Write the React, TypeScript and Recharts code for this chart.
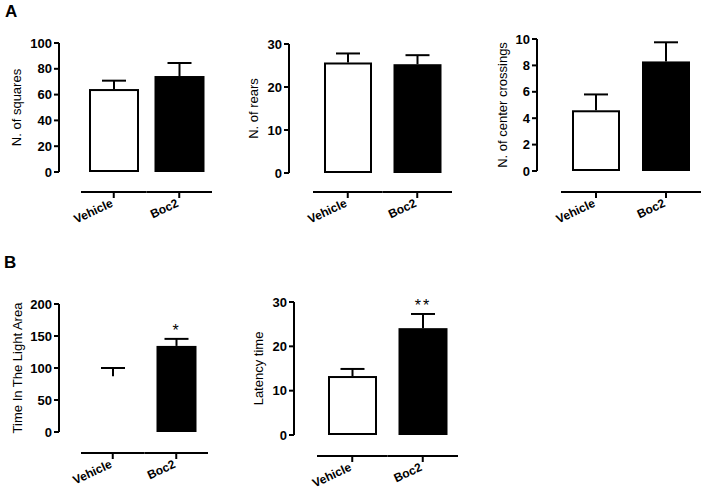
import React from "react";
import { BarChart, Bar, XAxis, YAxis, Cell } from "recharts";

const categories = ["Vehicle", "Boc2"];

const squaresMean = [64.3, 74.4];
const squaresSem = [6.5, 10.1];
const squaresTicks = [0, 20, 40, 60, 80, 100];

const rearsMean = [25.7, 25.3];
const rearsSem = [2.1, 2.1];
const rearsTicks = [0, 10, 20, 30];

const crossingsMean = [4.6, 8.3];
const crossingsSem = [1.2, 1.45];
const crossingsTicks = [0, 2, 4, 6, 8, 10];

const lightMean = [87, 134.5];
const lightSem = [13, 11];
const lightStars = ["", "*"];
const lightTicks = [0, 50, 100, 150, 200];

const latencyMean = [13.3, 24.1];
const latencySem = [1.6, 3.2];
const latencyStars = ["", "**"];
const latencyTicks = [0, 10, 20, 30];

const FONT = "'Liberation Sans', Arial, Helvetica, sans-serif";
const YW = 50; // y axis width
const MT = 20; // top margin
const XH = 60; // x axis height

type PanelProps = {
  mean: number[];
  sem: number[];
  stars?: string[];
  ticks: number[];
  yLabel: string;
  yAxisX: number;
  xStart: number;
  xEnd: number;
  yTop: number;
  yBase: number;
  barSize: number;
  labelDist: number;
  axisGap: number;
  hideFirst?: boolean;
};

const XTick = (props: any) => {
  const { x, y, payload, band, gap } = props;
  const ay = y + gap;
  const tx = x;
  const ty = ay + 14;
  return (
    <g>
      <line x1={x - band / 2} x2={x + band / 2} y1={ay} y2={ay} stroke="#000" strokeWidth={2} />
      <line x1={x} x2={x} y1={ay} y2={ay + 6} stroke="#000" strokeWidth={2} />
      <text
        x={tx}
        y={ty}
        textAnchor="end"
        transform={`rotate(-25 ${tx} ${ty})`}
        fontFamily={FONT}
        fontSize={12}
        fontWeight="bold"
        fill="#000"
      >
        {payload.value}
      </text>
    </g>
  );
};

const BarShape = (props: any) => {
  const { x, y, width, height, payload, index, hideFirst } = props;
  const cx = x + width / 2;
  const perUnit = payload.mean > 0 ? height / payload.mean : 0;
  const capY = y - payload.sem * perUnit;
  const hidden = hideFirst && index === 0;
  const white = index === 0;
  return (
    <g>
      {!hidden && (
        <rect
          x={x + 1}
          y={y + 1}
          width={width - 2}
          height={height - 2}
          fill={white ? "#fff" : "#000"}
          stroke="#000"
          strokeWidth={2}
        />
      )}
      <line x1={cx} x2={cx} y1={y} y2={capY} stroke="#000" strokeWidth={2} />
      <line x1={cx - 12} x2={cx + 12} y1={capY} y2={capY} stroke="#000" strokeWidth={2} />
      {payload.star ? (
        <text
          x={cx}
          y={capY - 3}
          textAnchor="middle"
          fontFamily={FONT}
          fontSize={16}
          letterSpacing={2}
          fill="#000"
        >
          {payload.star}
        </text>
      ) : null}
    </g>
  );
};

const Panel = (p: PanelProps) => {
  const data = categories.map((name, i) => ({
    name,
    mean: p.mean[i],
    sem: p.sem[i],
    star: p.stars ? p.stars[i] : "",
  }));
  const width = YW + (p.xEnd - p.yAxisX);
  const height = MT + (p.yBase - p.yTop) + XH;
  const band = (p.xEnd - p.xStart) / categories.length;
  const yMax = p.ticks[p.ticks.length - 1];
  return (
    <div
      style={{
        position: "absolute",
        left: p.yAxisX - YW,
        top: p.yTop - MT,
        width,
        height,
      }}
    >
      <BarChart
        width={width}
        height={height}
        data={data}
        margin={{ top: MT, right: 0, left: 0, bottom: 0 }}
        style={{ overflow: "visible" }}
      >
        <XAxis
          dataKey="name"
          height={XH}
          padding={{ left: p.xStart - p.yAxisX, right: 0 }}
          axisLine={false}
          tickLine={false}
          tickSize={0}
          tickMargin={0}
          interval={0}
          tick={(t: any) => <XTick {...t} band={band} gap={p.axisGap} />}
        />
        <YAxis
          width={YW}
          domain={[0, yMax]}
          ticks={p.ticks}
          interval={0}
          tickSize={5}
          tickMargin={2}
          axisLine={{ stroke: "#000", strokeWidth: 2 }}
          tickLine={{ stroke: "#000", strokeWidth: 2 }}
          tick={{ fill: "#000", fontSize: 13, fontWeight: "bold", fontFamily: FONT }}
          label={{
            value: p.yLabel,
            angle: -90,
            position: "insideLeft",
            offset: YW - p.labelDist,
            style: { textAnchor: "middle", fill: "#000", fontSize: 13, fontFamily: FONT },
          }}
        />
        <Bar
          dataKey="mean"
          barSize={p.barSize}
          isAnimationActive={false}
          shape={(s: any) => <BarShape {...s} hideFirst={p.hideFirst} />}
        >
          {data.map((d) => (
            <Cell key={d.name} />
          ))}
        </Bar>
      </BarChart>
    </div>
  );
};

const panelLetter = (t: string, left: number, top: number) => (
  <div
    style={{
      position: "absolute",
      left,
      top,
      fontFamily: FONT,
      fontWeight: "bold",
      fontSize: 17,
      lineHeight: 1,
      color: "#000",
    }}
  >
    {t}
  </div>
);

export default function App() {
  return (
    <div
      style={{
        position: "fixed",
        left: 0,
        top: 0,
        width: 706,
        height: 492,
        background: "#fff",
        overflow: "hidden",
      }}
    >
      {panelLetter("A", 5, 3)}
      {panelLetter("B", 4, 254)}
      <Panel
        mean={squaresMean}
        sem={squaresSem}
        ticks={squaresTicks}
        yLabel="N. of squares"
        yAxisX={59}
        xStart={81}
        xEnd={212}
        yTop={43}
        yBase={172}
        barSize={50}
        labelDist={43}
        axisGap={20}
      />
      <Panel
        mean={rearsMean}
        sem={rearsSem}
        ticks={rearsTicks}
        yLabel="N. of rears"
        yAxisX={289}
        xStart={313}
        xEnd={452}
        yTop={44}
        yBase={173}
        barSize={48}
        labelDist={36}
        axisGap={19}
      />
      <Panel
        mean={crossingsMean}
        sem={crossingsSem}
        ticks={crossingsTicks}
        yLabel="N. of center crossings"
        yAxisX={537}
        xStart={561}
        xEnd={701}
        yTop={39}
        yBase={171}
        barSize={48}
        labelDist={35}
        axisGap={21}
      />
      <Panel
        mean={lightMean}
        sem={lightSem}
        stars={lightStars}
        ticks={lightTicks}
        yLabel="Time In The Light Area"
        yAxisX={59}
        xStart={81}
        xEnd={208}
        yTop={304}
        yBase={432}
        barSize={40}
        labelDist={42}
        axisGap={21}
        hideFirst
      />
      <Panel
        mean={latencyMean}
        sem={latencySem}
        stars={latencyStars}
        ticks={latencyTicks}
        yLabel="Latency time"
        yAxisX={294}
        xStart={317}
        xEnd={458}
        yTop={302}
        yBase={435}
        barSize={49}
        labelDist={36}
        axisGap={21}
      />
    </div>
  );
}
